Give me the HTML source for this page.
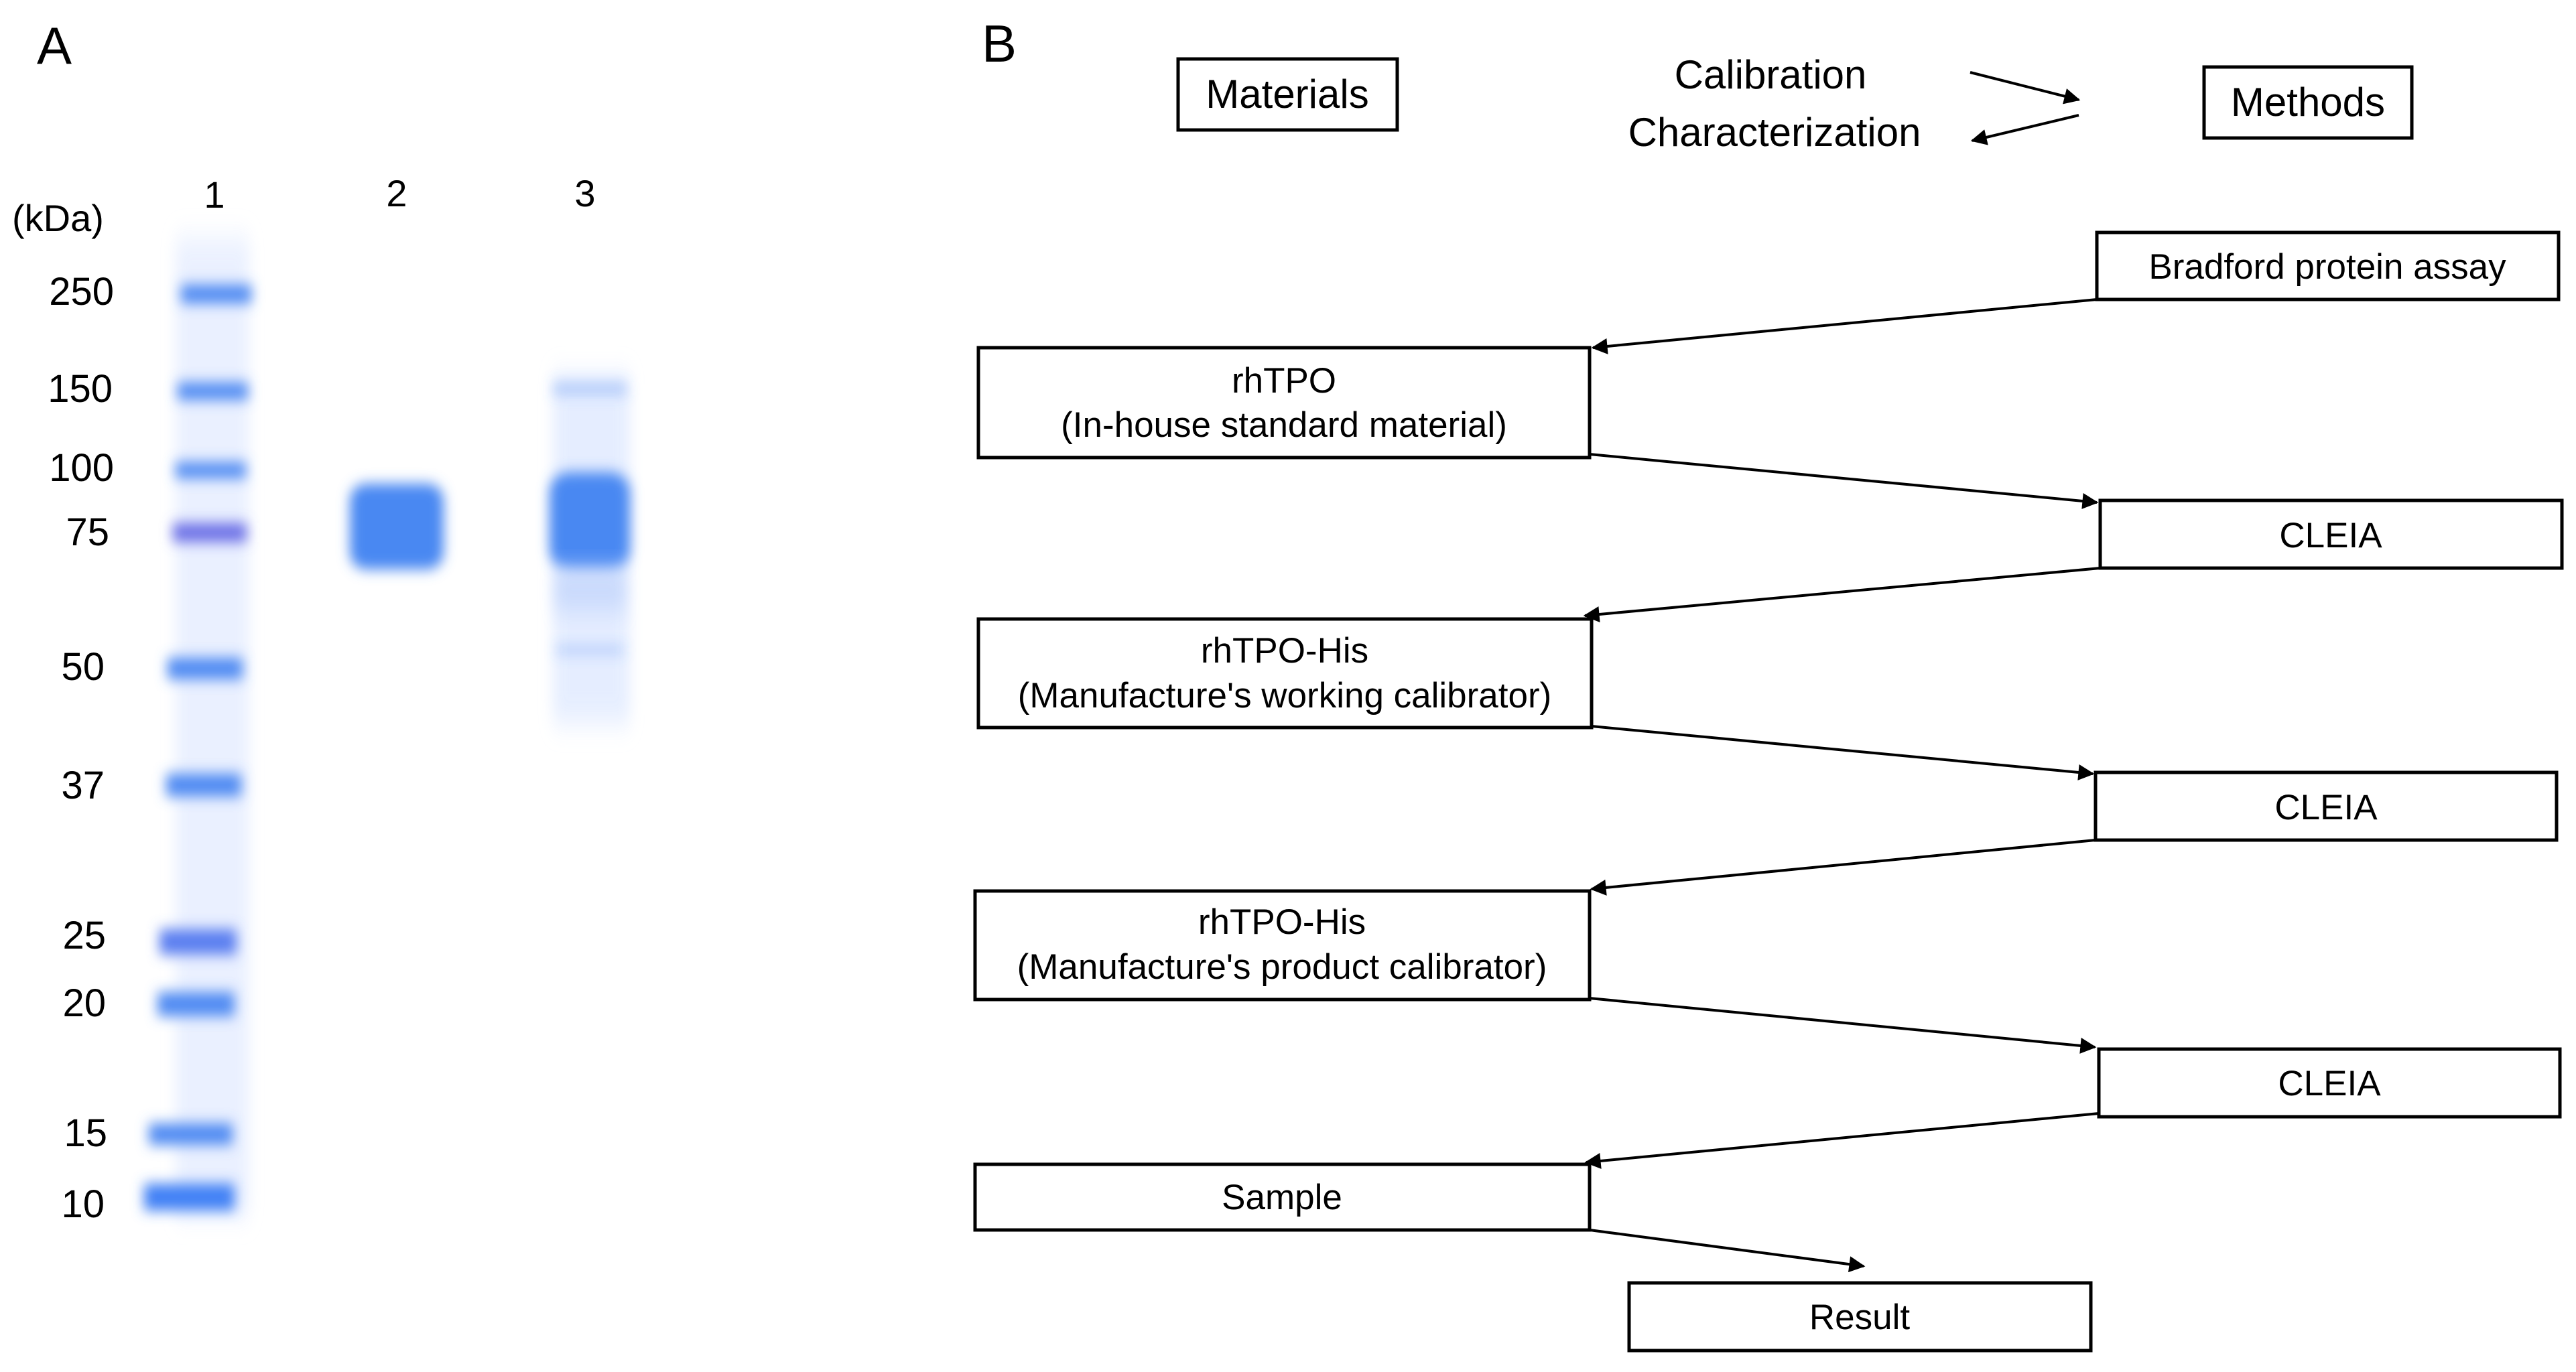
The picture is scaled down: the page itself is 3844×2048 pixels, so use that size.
<!DOCTYPE html>
<html><head><meta charset="utf-8"><style>
html,body{margin:0;padding:0;background:#fff;}
svg{display:block;}
text{font-family:"Liberation Sans",Arial,sans-serif;fill:#000;}
</style></head><body>
<svg width="3844" height="2048" viewBox="0 0 3844 2048" xmlns="http://www.w3.org/2000/svg">
<defs>
<filter id="b" x="-30%" y="-100%" width="160%" height="300%"><feGaussianBlur stdDeviation="9 10"/></filter>
<filter id="b2" x="-30%" y="-50%" width="160%" height="200%"><feGaussianBlur stdDeviation="10 20"/></filter>
<marker id="ar" viewBox="0 0 10 10" refX="9" refY="5" markerWidth="30" markerHeight="24" markerUnits="userSpaceOnUse" orient="auto">
<path d="M0,0 L10,5 L0,10 z" fill="#000"/></marker>
</defs>
<rect width="3844" height="2048" fill="#fff"/>
<!-- Panel A -->
<text x="55" y="95" font-size="78">A</text>
<text x="320" y="310" font-size="56" text-anchor="middle">1</text>
<text x="592" y="308" font-size="56" text-anchor="middle">2</text>
<text x="873" y="308" font-size="56" text-anchor="middle">3</text>
<text x="18" y="345" font-size="56">(kDa)</text>
<g font-size="58" text-anchor="end">
<text x="170" y="455">250</text><text x="168" y="600">150</text><text x="170" y="718">100</text>
<text x="163" y="814">75</text><text x="156" y="1015">50</text><text x="156" y="1192">37</text>
<text x="158" y="1416">25</text><text x="158" y="1517">20</text><text x="160" y="1711">15</text><text x="156" y="1817">10</text>
</g>
<rect x="262" y="355" width="110" height="1460" fill="#e8efff" filter="url(#b2)" opacity="0.9"/>
<rect x="825" y="560" width="115" height="520" fill="#e3ecff" filter="url(#b2)" opacity="0.9"/>
<g fill="#4f8af2" filter="url(#b)">
<rect x="270" y="425" width="105" height="28"/>
<rect x="265" y="571" width="105" height="26" />
<rect x="262" y="690" width="105" height="24"/>
<rect x="258" y="781" width="110" height="28" fill="#6a6ee6"/>
<rect x="250" y="982" width="112" height="32"/>
<rect x="248" y="1155" width="112" height="34"/>
<rect x="238" y="1387" width="115" height="38" fill="#5a7ef0"/>
<rect x="235" y="1481" width="115" height="36"/>
<rect x="222" y="1677" width="125" height="32"/>
<rect x="215" y="1767" width="135" height="40" fill="#3f80f5"/>
<rect x="825" y="570" width="110" height="20" opacity="0.35"/>
<rect x="830" y="963" width="100" height="14" opacity="0.3"/>
</g>
<rect x="522" y="722" width="140" height="128" rx="25" fill="#4a88f2" filter="url(#b)"/>
<rect x="820" y="705" width="120" height="145" rx="30" fill="#4a88f2" filter="url(#b)"/>
<rect x="828" y="850" width="105" height="60" fill="#bcd0fb" filter="url(#b2)" opacity="0.7"/>
<!-- Panel B -->
<text x="1465" y="92" font-size="78">B</text>
<g transform="translate(-7,0)">
<g fill="none" stroke="#000" stroke-width="5">
<rect x="1765" y="88" width="327" height="106"/>
<rect x="3296" y="100" width="310" height="106"/>
<rect x="3136" y="347" width="689" height="100"/>
<rect x="1467" y="519" width="912" height="164"/>
<rect x="3141" y="747" width="689" height="101"/>
<rect x="1467" y="924" width="915" height="162"/>
<rect x="3134" y="1153" width="688" height="101"/>
<rect x="1462" y="1330" width="917" height="162"/>
<rect x="3139" y="1566" width="688" height="101"/>
<rect x="1462" y="1738" width="917" height="98"/>
<rect x="2438" y="1915" width="689" height="101"/>
</g>
<g font-size="60" text-anchor="middle">
<text x="1928" y="161">Materials</text>
<text x="3451" y="173">Methods</text>
<text x="2649" y="132">Calibration</text>
<text x="2655" y="218">Characterization</text>
</g>
<g font-size="53" text-anchor="middle">
<text x="3480" y="416">Bradford protein assay</text>
<text x="1923" y="586">rhTPO</text>
<text x="1923" y="652">(In-house standard material)</text>
<text x="3485" y="817">CLEIA</text>
<text x="1924" y="989">rhTPO-His</text>
<text x="1924" y="1056">(Manufacture's working calibrator)</text>
<text x="3478" y="1223">CLEIA</text>
<text x="1920" y="1394">rhTPO-His</text>
<text x="1920" y="1461">(Manufacture's product calibrator)</text>
<text x="3483" y="1635">CLEIA</text>
<text x="1920" y="1805">Sample</text>
<text x="2782" y="1984">Result</text>
</g>
<g stroke="#000" stroke-width="4" fill="none" marker-end="url(#ar)">
<line x1="2947" y1="108" x2="3109" y2="149"/>
<line x1="3109" y1="172" x2="2950" y2="210"/>
<line x1="3136" y1="447" x2="2384" y2="519"/>
<line x1="2379" y1="678" x2="3136" y2="750"/>
<line x1="3141" y1="848" x2="2372" y2="919"/>
<line x1="2382" y1="1084" x2="3130" y2="1155"/>
<line x1="3134" y1="1254" x2="2382" y2="1327"/>
<line x1="2379" y1="1490" x2="3133" y2="1563"/>
<line x1="3139" y1="1662" x2="2374" y2="1735"/>
<line x1="2379" y1="1836" x2="2788" y2="1890"/>
</g>
</g>
</svg>
</body></html>
